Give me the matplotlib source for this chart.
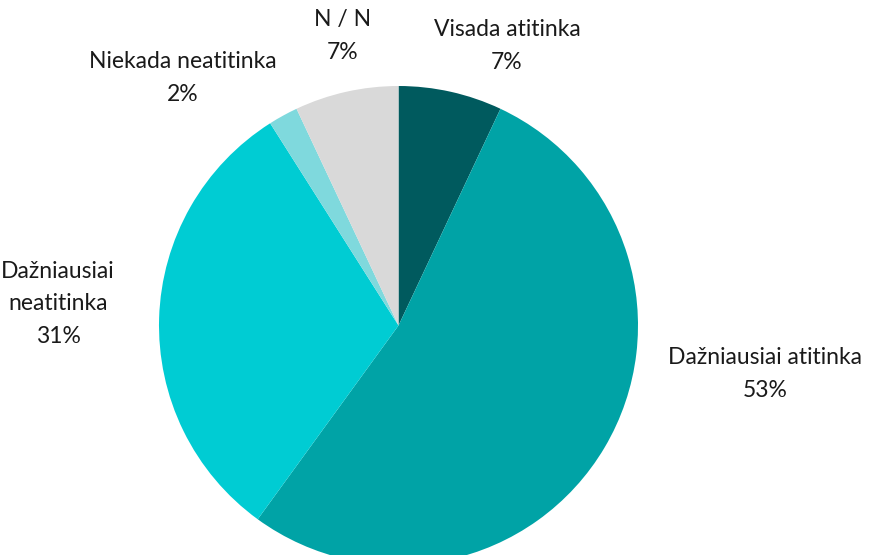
import matplotlib
matplotlib.use("Agg")
import matplotlib.pyplot as plt

categories = ["Visada atitinka", "Dažniausiai atitinka", "Dažniausiai\nneatitinka",
              "Niekada neatitinka", "N / N"]
values = [7, 53, 31, 2, 7]
colors = ["#005A5E", "#00A3A6", "#00CCD3", "#7FD9DD", "#D9D9D9"]

plt.rcParams['font.family'] = ['Lato', 'DejaVu Sans']

W, H = 870, 555
fig = plt.figure(figsize=(W / 100, H / 100), dpi=100)
ax = fig.add_axes([0, 0, 1, 1])

cx, cy, r = 398.5, 325.5, 239.5
def px(x, y):
    return (x - cx) / r, (cy - y) / r

ax.pie(values, colors=colors, startangle=90, counterclock=False, radius=1,
       center=(0, 0), wedgeprops=dict(linewidth=0))

label_pos = [(507, 46), (765, 374), (58, 304), (183, 78), (343, 36)]
for cat, v, (lx, ly) in zip(categories, values, label_pos):
    x, y = px(lx, ly)
    ax.text(x, y, f"{cat}\n{v}%", ha="center", va="center", fontsize=16.5,
            color="#1a1a1a", linespacing=1.68)

ax.set_xlim(-cx / r, (W - cx) / r)
ax.set_ylim((cy - H) / r, cy / r)
ax.set_aspect("equal")
ax.axis("off")
fig.savefig("out.png", dpi=100)
